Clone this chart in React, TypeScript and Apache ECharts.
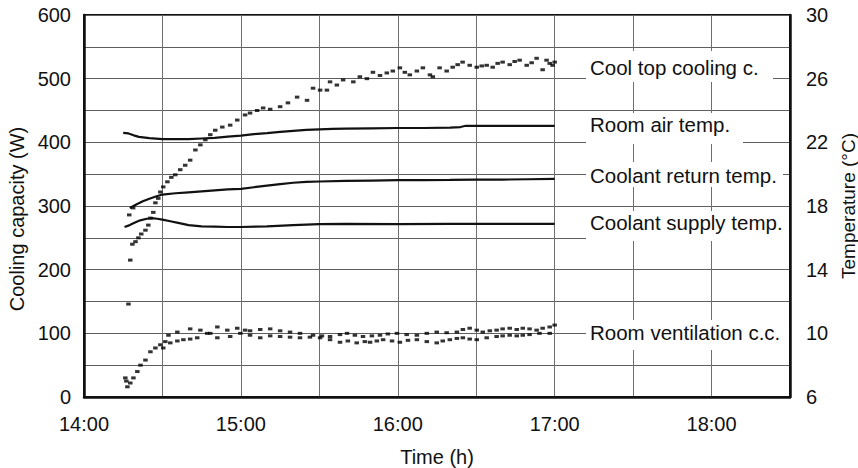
import React, { useEffect, useRef } from "react";
import * as echarts from "echarts";

// Time is in minutes after 14:00
const hourLabels = ["14:00", "15:00", "16:00", "17:00", "18:00"];

const coolTopMin = [17, 17.3, 17.7, 18.5, 18.8, 19.7, 20.8, 21.9, 23.5, 24.6, 25.4, 26.5, 27.3, 28.4, 29.2, 30.3, 31.9, 33.4, 34.9, 36.8, 38.7, 40.6, 42.6, 44.5, 46.4, 48.3, 50.2, 52.9, 55.9, 58.6, 61.6, 63.5, 66.2, 68.5, 71.2, 75, 78, 81.5, 85.3, 87.6, 90.3, 92.9, 94.1, 96.7, 99.1, 103, 105.5, 108.2, 110.5, 113.2, 115.8, 118.1, 120.8, 122.7, 124.6, 127.3, 129.6, 132.3, 133.4, 136, 138.7, 141, 142.9, 144.8, 147.5, 150.2, 152.1, 154, 156.3, 158.2, 160.1, 162.8, 164.7, 166.6, 169.3, 171.2, 173.1, 175.4, 176.9, 178.1, 179.2, 180];
const coolTopW = [146, 286, 215, 240, 297, 244, 250, 256, 262, 270, 281, 290, 305, 312, 322, 330, 338, 345, 349, 357, 364, 372, 388, 396, 404, 412, 419, 424, 427, 435, 443, 446, 450, 454, 452, 456, 462, 471, 466, 485, 482, 482, 495, 490, 498, 495, 503, 500, 510, 505, 509, 512, 517, 510, 506, 512, 517, 506, 503, 517, 512, 518, 522, 526, 521, 518, 520, 521, 518, 524, 526, 522, 527, 529, 521, 525, 532, 514, 529, 524, 521, 526];

const ventAMin = [15.8, 16.6, 17.7, 18.9, 20.4, 21.6, 23.5, 25.4, 27.3, 29.2, 31.1, 32.3, 35.7, 40.6, 44.5, 48.3, 51, 54.8, 58.6, 61.6, 63.5, 67.4, 71.2, 75, 78.8, 82.6, 87.6, 91, 94.1, 97.9, 100.6, 103.6, 106.7, 110.1, 113.2, 116.2, 119.7, 123.4, 127.3, 131.1, 134.9, 138.7, 142.6, 144.9, 147.5, 150.2, 152.5, 155.2, 157.8, 160.1, 162.8, 165.5, 167.8, 170.4, 173.1, 175.4, 178.1, 180];
const ventAW = [30, 16, 22, 30, 40, 50, 58, 71, 77, 82, 87, 97, 102, 107, 105, 100, 110, 105, 108, 105, 104, 106, 107, 104, 102, 100, 97, 96, 95, 98, 100, 97, 95, 96, 97, 99, 100, 98, 97, 100, 102, 101, 102, 106, 108, 105, 102, 104, 105, 107, 108, 106, 108, 107, 105, 108, 110, 113];

const ventBMin = [16.2, 30.3, 33, 35.7, 38, 40.6, 43.3, 47.1, 51, 55.9, 59.8, 63.5, 67.4, 71.2, 75, 78.8, 82.6, 86.4, 90.3, 94.1, 97.9, 100.9, 104.3, 107.4, 109.4, 112, 114.4, 117.8, 120.8, 123.9, 127.3, 131.1, 134.9, 137.2, 139.9, 142.6, 144.9, 147.5, 150.2, 154, 157.8, 160.1, 162.8, 165.5, 167.8, 170.4, 174.2, 178.1];
const ventBW = [25, 77, 85, 88, 90, 91, 93, 100, 93, 95, 100, 97, 93, 96, 95, 94, 93, 94, 93, 90, 86, 88, 85, 87, 86, 88, 90, 88, 86, 89, 90, 87, 85, 88, 90, 92, 93, 91, 90, 93, 95, 96, 97, 96, 97, 98, 100, 100];

const roomAirMin = [15, 17, 19, 21, 25, 30, 35, 40, 45, 50, 55, 60, 65, 70, 75, 80, 85, 90, 95, 100, 110, 120, 130, 140, 144, 146, 160, 180];
const roomAirC = [22.6, 22.56, 22.44, 22.34, 22.26, 22.2, 22.2, 22.2, 22.24, 22.28, 22.36, 22.42, 22.52, 22.58, 22.66, 22.72, 22.78, 22.82, 22.84, 22.86, 22.88, 22.9, 22.9, 22.92, 22.96, 23.04, 23.04, 23.04];

const returnMin = [17.5, 20, 22.5, 25, 27.5, 30, 35, 40, 45, 50, 55, 60, 65, 70, 75, 80, 85, 90, 100, 110, 120, 130, 140, 150, 160, 170, 180];
const returnC = [17.88, 18.1, 18.3, 18.45, 18.6, 18.72, 18.8, 18.86, 18.92, 18.98, 19.04, 19.08, 19.18, 19.28, 19.38, 19.46, 19.52, 19.54, 19.58, 19.6, 19.62, 19.63, 19.64, 19.66, 19.66, 19.68, 19.7];

const supplyMin = [15.5, 17.5, 19.5, 21.5, 24, 26, 28, 30, 33, 36, 40, 45, 50, 55, 60, 70, 80, 90, 100, 120, 140, 160, 180];
const supplyC = [16.68, 16.8, 16.96, 17.1, 17.2, 17.24, 17.2, 17.14, 17.04, 16.94, 16.8, 16.72, 16.7, 16.68, 16.68, 16.72, 16.8, 16.86, 16.88, 16.86, 16.88, 16.88, 16.88];

const seriesLabels = [
  "Cool top cooling c.",
  "Room air temp.",
  "Coolant return temp.",
  "Coolant supply temp.",
  "Room ventilation c.c.",
];

const zip = (xs: number[], ys: number[]) => xs.map((x, i) => [x, ys[i]]);

const FONT = "'Liberation Sans', Arial, sans-serif";
const INK = "#111111";

export default function App() {
  const ref = useRef<HTMLDivElement>(null);
  useEffect(() => {
    if (!ref.current) return;
    const chart = echarts.init(ref.current, undefined, { renderer: "svg" });

    // label boxes (x, y, w, h) and text centre y
    const boxes = [
      { x: 586, y: 51, w: 187, h: 31, ty: 67 },
      { x: 586, y: 113, w: 157, h: 31, ty: 124 },
      { x: 586, y: 162, w: 197, h: 25, ty: 175 },
      { x: 586, y: 211, w: 203, h: 30, ty: 222 },
      { x: 586, y: 320, w: 203, h: 30, ty: 332 },
    ];
    const graphics: any[] = [];
    boxes.forEach((b, i) => {
      graphics.push({
        type: "rect",
        z: 100,
        shape: { x: b.x, y: b.y, width: b.w, height: b.h },
        style: { fill: "#ffffff" },
      });
      graphics.push({
        type: "text",
        z: 101,
        x: 590,
        y: b.ty,
        style: {
          text: seriesLabels[i],
          fill: INK,
          font: `20.5px ${FONT}`,
          textVerticalAlign: "middle",
          verticalAlign: "middle",
        },
      });
    });

    const scatterStyle = {
      type: "scatter" as const,
      symbol: "rect",
      symbolSize: [4.5, 3],
      itemStyle: { color: "#000" },
      silent: true,
    };
    const lineStyleSeries = {
      type: "line" as const,
      yAxisIndex: 1,
      showSymbol: false,
      symbol: "none",
      lineStyle: { color: INK, width: 2.2 },
      silent: true,
    };

    chart.setOption({
      animation: false,
      backgroundColor: "#ffffff",
      textStyle: { fontFamily: FONT },
      grid: {
        left: 84,
        right: 68,
        top: 15,
        bottom: 71,
        outerBoundsMode: "none",
        containLabel: false,
        show: true,
        borderColor: INK,
        borderWidth: 2,
        backgroundColor: "transparent",
      },
      xAxis: {
        type: "value",
        min: 0,
        max: 270,
        interval: 30,
        axisLine: { show: true, lineStyle: { color: INK, width: 2.5 } },
        axisTick: { show: false },
        splitLine: { show: true, lineStyle: { color: "#6e6e6e", width: 1 } },
        axisLabel: {
          formatter: (v: number) => (v % 60 === 0 ? hourLabels[v / 60] || "" : ""),
          color: INK,
          fontSize: 20,
          margin: 17,
          fontFamily: FONT,
        },
        name: "Time (h)",
        nameLocation: "middle",
        nameGap: 50,
        nameTextStyle: { color: INK, fontSize: 20, fontFamily: FONT },
      },
      yAxis: [
        {
          type: "value",
          position: "left",
          min: 0,
          max: 600,
          interval: 50,
          axisLine: { show: true, lineStyle: { color: INK, width: 2.5 } },
          axisTick: { show: false },
          splitLine: { show: true, lineStyle: { color: "#5e5e5e", width: 1 } },
          axisLabel: {
            formatter: (v: number) => (v % 100 === 0 ? String(v) : ""),
            color: INK,
            fontSize: 20,
            margin: 13,
            fontFamily: FONT,
          },
          name: "Cooling capacity (W)",
          nameLocation: "middle",
          nameGap: 55,
          nameTextStyle: { color: INK, fontSize: 20, fontFamily: FONT, padding: [0, 26, 0, 0] },
        },
        {
          type: "value",
          position: "right",
          min: 6,
          max: 30,
          interval: 4,
          axisLine: { show: true, lineStyle: { color: INK, width: 2.5 } },
          axisTick: { show: false },
          splitLine: { show: false },
          axisLabel: {
            color: INK,
            fontSize: 20,
            margin: 16,
            fontFamily: FONT,
          },
          name: "Temperature (°C)",
          nameLocation: "middle",
          nameGap: 45,
          nameTextStyle: { color: INK, fontSize: 19, fontFamily: FONT },
        },
      ],
      series: [
        { ...scatterStyle, name: seriesLabels[0], data: zip(coolTopMin, coolTopW) },
        { ...scatterStyle, name: seriesLabels[4] + " a", data: zip(ventAMin, ventAW) },
        { ...scatterStyle, name: seriesLabels[4] + " b", data: zip(ventBMin, ventBW) },
        { ...lineStyleSeries, name: seriesLabels[1], data: zip(roomAirMin, roomAirC) },
        { ...lineStyleSeries, name: seriesLabels[2], data: zip(returnMin, returnC) },
        { ...lineStyleSeries, name: seriesLabels[3], data: zip(supplyMin, supplyC) },
      ],
      graphic: graphics,
    });
    return () => chart.dispose();
  }, []);
  return (
    <div
      ref={ref}
      style={{ position: "fixed", left: 0, top: 0, width: 858, height: 468, background: "#fff" }}
    />
  );
}
